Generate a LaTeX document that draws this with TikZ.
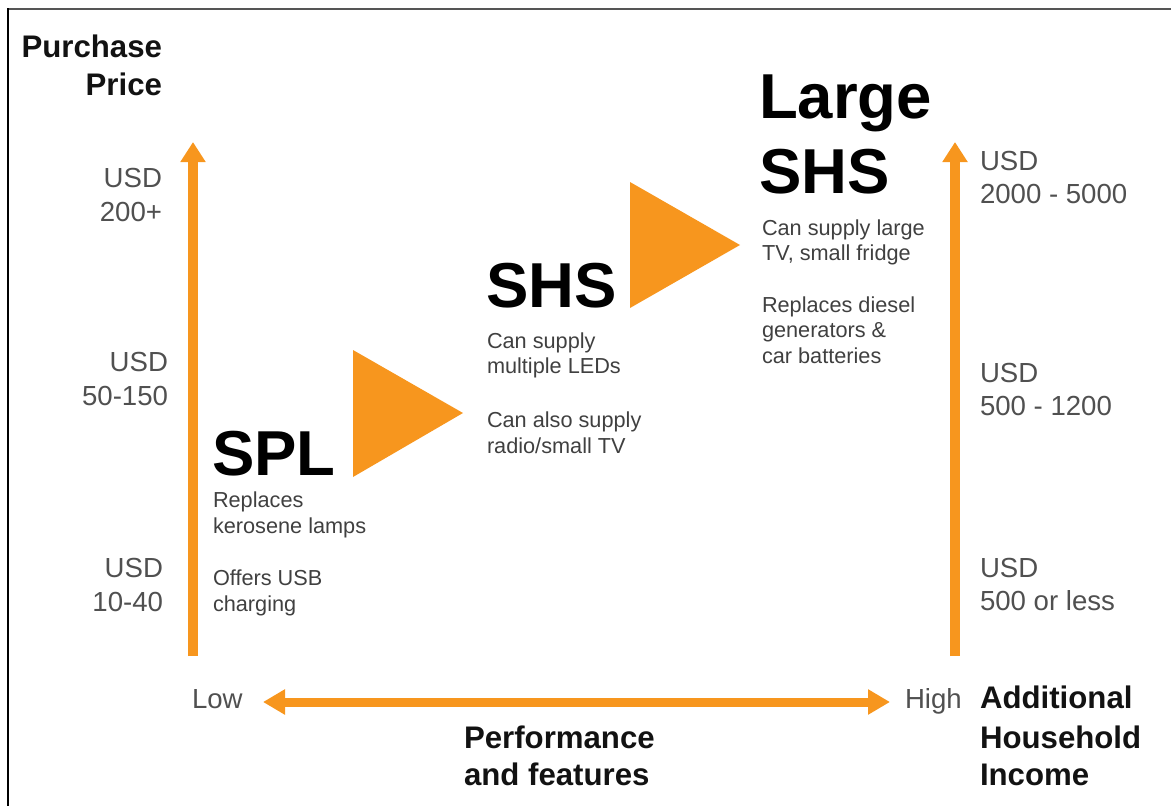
\documentclass[tikz,border=0pt]{standalone}
\usepackage{fontspec}
\setmainfont{Liberation Sans}
\usetikzlibrary{arrows.meta}
\definecolor{orng}{RGB}{247,150,30}
\definecolor{pricegray}{RGB}{80,80,80}
\definecolor{descgray}{RGB}{64,64,64}
\definecolor{framegray}{RGB}{85,85,85}
\tikzset{
  txt/.style={inner sep=0pt, outer sep=0pt},
  bigbold/.style={txt, anchor=base west, font=\fontsize{63.5}{70}\selectfont\bfseries, text=black},
  axisbold/.style={txt, font=\fontsize{31.2}{37}\selectfont\bfseries, text=black!93},
  price/.style={txt, font=\fontsize{27.6}{33}\selectfont, text=pricegray},
  desc/.style={txt, anchor=base west, font=\fontsize{21.7}{26}\selectfont, text=descgray},
  axisarrow/.style={draw=orng, line width=9.5pt, -{Triangle[width=24pt,length=20pt]}},
  axisdarrow/.style={draw=orng, line width=9pt, {Triangle[width=24pt,length=22pt]}-{Triangle[width=24pt,length=22pt]}},
  tri/.style={fill=orng, draw=none}
}
\begin{document}
\begin{tikzpicture}[x=1pt,y=-1pt]
\useasboundingbox (0,0) rectangle (1171,806);
% frame
\draw[framegray, line width=2pt] (7,9) -- (1171,9);
\draw[black, line width=2pt] (8,8) -- (8,806);

% axis coordinates
\coordinate (lb) at (193,656);
\coordinate (lt) at (193,142);
\coordinate (rb) at (955,656);
\coordinate (rt) at (955,142);
\coordinate (hl) at (263,702);
\coordinate (hr) at (890,702);
\draw[axisarrow] (lb) -- (lt);
\draw[axisarrow] (rb) -- (rt);
\draw[axisdarrow] (hl) -- (hr);

% triangles
\fill[tri] (353,350) -- (353,477) -- (463,413) -- cycle;
\fill[tri] (630,182) -- (630,308) -- (740,245) -- cycle;

% Purchase Price
\node[axisbold, anchor=base east] (pp1) at (162,57) {Purchase};
\node[axisbold, anchor=base east] (pp2) at (162,95) {Price};

% left prices
\node[price, anchor=base east] (lp1a) at (162,187) {USD};
\node[price, anchor=base east] (lp1b) at (162,221) {200+};
\node[price, anchor=base east] (lp2a) at (168,371) {USD};
\node[price, anchor=base east] (lp2b) at (168,405) {50-150};
\node[price, anchor=base east] (lp3a) at (163,577) {USD};
\node[price, anchor=base east] (lp3b) at (163,611) {10-40};

% right prices
\node[price, anchor=base west] (rp1a) at (980,170) {USD};
\node[price, anchor=base west] (rp1b) at (980,203) {2000 - 5000};
\node[price, anchor=base west] (rp2a) at (980,382) {USD};
\node[price, anchor=base west] (rp2b) at (980,415) {500 - 1200};
\node[price, anchor=base west] (rp3a) at (980,577) {USD};
\node[price, anchor=base west] (rp3b) at (980,610) {500 or less};

% SPL
\node[bigbold] (spl) at (212,475) {SPL};
\node[desc] (spl1) at (213,507) {Replaces};
\node[desc] (spl2) at (213,533) {kerosene lamps};
\node[desc] (spl3) at (213,585) {Offers USB};
\node[desc] (spl4) at (213,611) {charging};

% SHS
\node[bigbold] (shs) at (486,307) {SHS};
\node[desc] (shs1) at (487,348) {Can supply};
\node[desc] (shs2) at (487,373) {multiple LEDs};
\node[desc] (shs3) at (487,427) {Can also supply};
\node[desc] (shs4) at (487,453) {radio/small TV};

% Large SHS
\node[bigbold] (lg1) at (759,118) {Large};
\node[bigbold] (lg2) at (759,193) {SHS};
\node[desc] (lg3) at (762,235) {Can supply large};
\node[desc] (lg4) at (762,260) {TV, small fridge};
\node[desc] (lg5) at (762,312) {Replaces diesel};
\node[desc] (lg6) at (762,337) {generators \&};
\node[desc] (lg7) at (762,363) {car batteries};

% bottom axis labels
\node[price, anchor=base west] (low) at (192,708) {Low};
\node[price, anchor=base west] (high) at (905,708) {High};
\node[axisbold, anchor=base west] (pf1) at (464,748) {Performance};
\node[axisbold, anchor=base west] (pf2) at (464,785) {and features};
\node[axisbold, anchor=base west] (ah1) at (980,708) {Additional};
\node[axisbold, anchor=base west] (ah2) at (980,748) {Household};
\node[axisbold, anchor=base west] (ah3) at (980,785) {Income};
\end{tikzpicture}
\end{document}
